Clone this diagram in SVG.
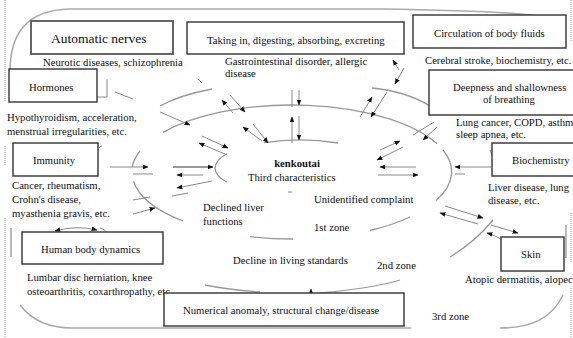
<svg xmlns="http://www.w3.org/2000/svg" width="573" height="338" viewBox="0 0 573 338">
<defs>
<marker id="ah" viewBox="0 0 10 10" refX="9" refY="5" markerWidth="6" markerHeight="6" markerUnits="userSpaceOnUse" orient="auto-start-reverse"><path d="M0,1 L10,5 L0,9 z" fill="#111"/></marker>
<style>
text{font-family:"Liberation Serif","Times New Roman",serif;font-size:10.7px;fill:#111}
.big{font-size:13.5px}
.b{font-weight:bold}
.box{fill:#fff;stroke:#333;stroke-width:1.4}
.arc{fill:none;stroke:#999;stroke-width:1.3}
.frame{fill:none;stroke:#aaa;stroke-width:1.6}
.dot{fill:none;stroke:#999;stroke-width:1;stroke-dasharray:1 1}
.ar{fill:none;stroke:#888;stroke-width:1;marker-end:url(#ah)}
.ln{fill:none;stroke:#888;stroke-width:1}
</style>
</defs>
<rect width="573" height="338" fill="#fff"/>
<g id="borders">
<path class="dot" d="M5,0 V102 M5,146 V166 M5,218 V338 M571,0 V42 M571,213 V262 M571,288 V338"/>
<path class="frame" d="M10,72 C10,35 25,10 70,9 L380,9 C450,10 510,12 540,16"/>
<path class="frame" d="M566,225 V258 M563,295 C552,318 532,328 500,328 M20,305 C30,318 45,328 72,328 L411,328 M11,228 V257"/>
</g>
<g id="zones">
<path class="arc" d="M160,106 Q180,95 212,89 M372,88 Q405,91 430,106 M493,220 Q475,242 450,257 M400,280 Q375,288 320,293 M260,292 Q230,290 205,285"/>
<path class="arc" d="M140,151 A160,67 0 0 0 132.2,167 M133.5,181.2 A160,67 0 0 0 183,221 M163,132.4 A160,67 0 0 1 437,143.7 M443,150 A160,67 0 0 1 436,200.6 M410,217 A160,67 0 0 1 370,230.5 M293,239 A160,67 0 0 1 250,236.7"/>
<path class="arc" d="M264,142.6 A85,28 0 0 1 338,143 M227,153.7 A85,28 0 0 0 227,182.3"/>
</g>
<g id="connectors">
<path class="ar" d="M233,113 L222,100"/>
<path class="ar" d="M230,95 L245,112"/>
<path class="ln" d="M292,90 V107"/>
<path class="ar" d="M299,90 V105"/>
<path class="ar" d="M292,143 V117"/>
<path class="ar" d="M299,116 V140"/>
<path class="ar" d="M360,117 L372,97"/>
<path class="ar" d="M387,92 L371,117"/>
<path class="ar" d="M262,141 L243,127"/>
<path class="ar" d="M253,124 L268,143"/>
<path class="ar" d="M225,154 L199,143"/>
<path class="ar" d="M202,136 L228,148"/>
<path class="ar" d="M110,167 H148"/>
<path class="ln" d="M133,174 H153"/>
<path class="ar" d="M173,167 H213" style="stroke-width:1.8;stroke:#999"/>
<path class="ar" d="M203,175 H177"/>
<path class="ar" d="M212,181 L177,188"/>
<path class="ln" d="M172,196 L188,193"/>
<path class="ln" d="M133,200 L150,197"/>
<path class="ar" d="M133,214 L155,208"/>
<path class="ar" d="M160,112 L190,125"/>
<path class="ln" d="M97,97 H107 V79"/>
<path class="ln" d="M115,92 L133,99"/>
<path class="ln" d="M198,79 L202,83"/>
<path class="ar" d="M380,150 L400,141"/>
<path class="ar" d="M403,147 L377,160"/>
<path class="ar" d="M416,167 H380"/>
<path class="ar" d="M378,175 H418"/>
<path class="ar" d="M491,167 H455"/>
<path class="ln" d="M455,174 H465"/>
<path class="ar" d="M437,127 L423,140"/>
<path class="ln" d="M413,135 L434,122"/>
<path class="ar" d="M445,206 L483,218"/>
<path class="ar" d="M478,224 L440,213"/>
<path class="ar" d="M491,225 L518,233"/>
<path class="ar" d="M501,239 Q494,235 487,233"/>
<path class="ln" d="M490,150 L493,157"/>
<path class="ar" d="M399,70 L393,60"/>
<path class="ar" d="M404,68 L395,84"/>
<path class="ar" d="M311,296 V289"/>
<path class="ar" d="M55,231 Q76,225 97,230" style="marker-start:url(#ah)"/>
<path class="ln" d="M100,228 Q105,229 107,233 M99,148 Q100,146 102,146"/>
<path class="ln" d="M288,192 H292"/>
</g>
<g id="automatic-nerves"><rect class="box" x="31" y="21" width="142" height="33" style="stroke:#555;stroke-width:1.8"/><text class="big" x="51" y="43">Automatic nerves</text></g>
<text x="43" y="65.5">Neurotic diseases, schizophrenia</text>
<g id="hormones"><rect class="box" x="9" y="69" width="88" height="33"/><text x="29" y="90.5">Hormones</text></g>
<text x="7" y="120.5">Hypothyroidism, acceleration,</text>
<text x="7" y="135">menstrual irregularities, etc.</text>
<g id="immunity"><rect class="box" x="13" y="143" width="85" height="33"/><text x="33" y="163.5">Immunity</text></g>
<text x="12" y="188.5">Cancer, rheumatism,</text>
<text x="12" y="202.5">Crohn's disease,</text>
<text x="12" y="216.5">myasthenia gravis, etc.</text>
<g id="human-body-dynamics"><rect class="box" x="22" y="232" width="141" height="32"/><text x="41" y="252.5">Human body dynamics</text></g>
<text x="27" y="280.5">Lumbar disc herniation, knee</text>
<text x="27" y="294.5">osteoarthritis, coxarthropathy, etc.</text>
<g id="taking-in"><rect class="box" x="187" y="22" width="217" height="32"/><text x="207" y="43.5">Taking in, digesting, absorbing, excreting</text></g>
<text x="225" y="64.5">Gastrointestinal disorder, allergic</text>
<text x="225" y="76.5">disease</text>
<g id="circulation"><rect class="box" x="413" y="15" width="153" height="33"/><text x="434" y="36.5">Circulation of body fluids</text></g>
<text x="425" y="63.5">Cerebral stroke, biochemistry, etc.</text>
<g id="breathing"><rect class="box" x="429" y="70" width="150" height="45"/><text x="453" y="90.5">Deepness and shallowness</text><text x="483" y="103">of breathing</text></g>
<text x="456" y="125.5">Lung cancer, COPD, asthma,</text>
<text x="456" y="138">sleep apnea, etc.</text>
<g id="biochemistry"><rect class="box" x="492" y="143" width="88" height="33"/><text x="512" y="163.5">Biochemistry</text></g>
<text x="488" y="190.5">Liver disease, lung</text>
<text x="488" y="203.5">disease, etc.</text>
<g id="skin"><rect class="box" x="501" y="237" width="63" height="34"/><text x="521" y="257.5">Skin</text></g>
<text x="465" y="282.5">Atopic dermatitis, alopecia</text>
<g id="numerical"><rect class="box" x="164" y="293" width="240" height="33"/><text x="183" y="313.5">Numerical anomaly, structural change/disease</text></g>
<g id="core"><text class="b" x="297" y="166.5" text-anchor="middle">kenkoutai</text><text x="248" y="180.5">Third characteristics</text></g>
<text x="314" y="202.5">Unidentified complaint</text>
<text x="203" y="210.5">Declined liver</text>
<text x="203" y="224.5">functions</text>
<text x="314" y="230.5">1st zone</text>
<text x="233" y="263.5">Decline in living standards</text>
<text x="377" y="268.5">2nd zone</text>
<text x="432" y="319.5">3rd zone</text>
</svg>
